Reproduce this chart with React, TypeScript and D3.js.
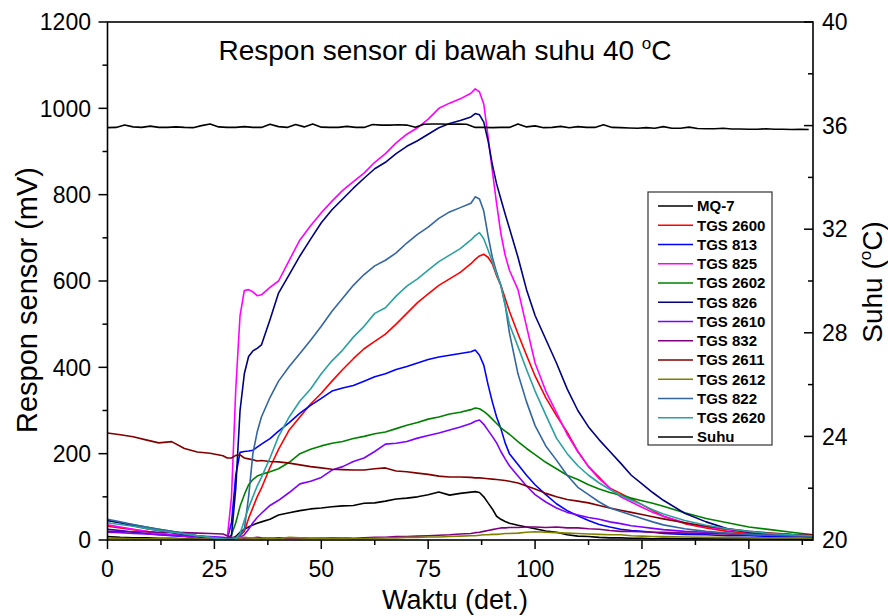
import React from 'react';
import * as d3 from 'd3';

// Shared time axis (seconds)
const TIME = [
  0, 3, 6, 9, 12, 15, 18, 21, 24, 27,
  28, 29, 30, 31, 32, 33, 34, 35, 36,
  38, 40, 42.5, 45, 47.5, 50, 52.5, 55, 57.5, 60, 62.5, 65, 67.5, 70, 72.5, 75, 77.5, 80, 82.5, 85,
  86, 87, 88, 89, 90, 91, 92, 93, 94,
  96, 98, 100,
  102.5, 105, 107.5, 110, 112.5, 115, 117.5, 120, 122.5, 125, 127.5, 130,
  135, 140, 145, 150, 155, 160, 165,
];

const MQ7 = [
  8, 6, 5, 5, 4, 4, 3, 3, 3, 2,
  2, 3, 8, 18, 25, 30, 35, 39, 42,
  48, 58, 63, 68, 72, 74, 77, 79, 80, 85, 86, 90, 95, 97, 100, 105, 111, 104, 108, 111,
  112, 110, 100, 86, 72, 55, 48, 43, 39,
  34, 30, 26,
  21, 18, 12, 9, 8, 6, 5, 5, 4, 4, 3, 4,
  3, 3, 2, 3, 2, 2, 2,
];
const TGS2600 = [
  32, 28, 24, 20, 16, 12, 9, 6, 4, 2,
  1, 2, 5, 10, 20, 50, 75, 100, 120,
  168, 210, 255, 285, 315, 340, 368, 395, 420, 443, 460, 477, 500, 525, 550, 570, 590, 605, 620, 640,
  650, 658, 662, 655, 640, 612, 590, 560, 530,
  478, 428, 380,
  330, 288, 250, 205, 170, 145, 120, 108, 95, 82, 68, 55,
  38, 28, 20, 16, 14, 12, 10,
];
const TGS813 = [
  25, 22, 18, 15, 12, 10, 8, 6, 4, 2,
  2, 40, 150, 203, 205, 206, 208, 215, 222,
  235, 252, 272, 294, 312, 328, 345, 352, 358, 368, 378, 385, 395, 402, 410, 418, 424, 428, 432, 436,
  440, 428, 405, 360, 320, 285, 258, 225, 200,
  175, 150, 128,
  105, 84, 68, 56, 45, 36, 30, 25, 22, 20, 18, 15,
  13, 12, 10, 10, 8, 8, 6,
];
const TGS825 = [
  35, 30, 25, 20, 15, 12, 9, 6, 4, 2,
  3, 100, 350, 520, 578, 580, 575, 566, 568,
  585, 600, 648, 695, 728, 758, 785, 810, 830, 850, 875, 895, 920, 940, 955, 975, 1000, 1012, 1022, 1035,
  1045, 1038, 1010, 935, 855, 780, 710, 660, 625,
  580, 495, 410,
  345, 295, 245, 205, 170, 142, 120, 100, 88, 76, 64, 55,
  40, 30, 24, 18, 14, 12, 10,
];
const TGS2602 = [
  45, 40, 35, 30, 25, 20, 15, 10, 6, 3,
  2, 12, 40, 78, 105, 128, 140, 148, 152,
  158, 165, 180, 200, 210, 218, 224, 228, 235, 240, 246, 250, 258, 266, 272, 280, 285, 292, 296, 302,
  306, 304, 298, 290, 280, 270, 260, 252, 245,
  228, 212, 198,
  180, 165, 150, 140, 128, 118, 110, 104, 97, 91, 85, 78,
  63, 50, 40, 30, 24, 18, 12,
];
const TGS826 = [
  45, 40, 33, 27, 22, 17, 12, 8, 5, 2,
  2, 10, 120, 300, 385, 425, 438, 444, 452,
  510, 572, 615, 658, 697, 735, 765, 790, 815, 838, 860, 875, 895, 912, 925, 940, 955, 965, 972, 980,
  988, 985, 968, 925, 870, 825, 790, 755, 722,
  655, 580, 520,
  465, 410, 350, 300, 262, 232, 205, 178, 150, 130, 110, 92,
  62, 42, 26, 18, 12, 10, 8,
];
const TGS2610 = [
  18, 17, 15, 14, 12, 11, 10, 9, 8, 6,
  5, 4, 4, 6, 12, 25, 40, 52, 62,
  80, 92, 110, 130, 136, 145, 162, 170, 182, 190, 205, 222, 224, 228, 236, 242, 248, 255, 262, 270,
  275, 278, 268, 254, 240, 225, 205, 188, 172,
  148, 125, 105,
  88, 74, 64, 58, 52, 48, 42, 38, 33, 30, 27, 24,
  20, 18, 15, 13, 12, 10, 9,
];
const TGS832 = [
  20, 20, 19, 19, 18, 18, 17, 16, 15, 14,
  10, 6, 5, 5, 4, 5, 5, 6, 5,
  4, 5, 4, 5, 4, 4, 5, 5, 4, 5, 6, 6, 8, 8, 9, 10, 11, 12, 14, 15,
  17, 18, 20, 22, 24, 26, 28, 28, 29,
  29, 30, 30,
  29, 30, 28, 28, 26, 25, 22, 20, 20, 19, 18, 18,
  16, 15, 14, 13, 12, 11, 10,
];
const TGS2611 = [
  248, 244, 239, 232, 225, 228, 212, 204, 201, 195,
  190, 190, 196, 197, 190, 188, 186, 183, 184,
  182, 181, 178, 174, 170, 167, 164, 163, 162, 162, 165, 167, 160, 158, 155, 152, 148, 146, 146, 145,
  144, 144, 143, 142, 141, 140, 139, 138, 136,
  132, 125, 118,
  108, 100, 94, 90, 86, 80, 74, 69, 64, 59, 54, 49,
  40, 32, 26, 20, 16, 13, 12,
];
const TGS2612 = [
  4, 4, 3, 3, 3, 3, 2, 2, 2, 2,
  2, 3, 5, 5, 6, 5, 5, 4, 3,
  5, 3, 6, 5, 4, 5, 4, 5, 3, 3, 4, 5, 5, 6, 6, 7, 7, 8, 9, 10,
  10, 11, 12, 12, 13, 13, 14, 15, 15,
  16, 18, 19,
  18, 17, 16, 15, 14, 13, 12, 12, 10, 9, 8, 8,
  7, 6, 6, 5, 5, 5, 4,
];
const TGS822 = [
  48, 42, 36, 30, 25, 20, 15, 10, 6, 3,
  2, 3, 6, 12, 25, 100, 200, 250, 285,
  330, 368, 402, 432, 463, 495, 530, 560, 590, 615, 635, 648, 665, 688, 708, 725, 745, 760, 770, 780,
  795, 790, 762, 705, 655, 620, 590, 545, 480,
  385, 320, 265,
  218, 185, 150, 122, 105, 88, 74, 66, 58, 50, 42, 35,
  26, 20, 16, 13, 11, 10, 9,
];
const TGS2620 = [
  40, 36, 32, 27, 22, 18, 14, 10, 6, 3,
  1, 1, 3, 15, 45, 75, 100, 125, 145,
  190, 240, 285, 322, 350, 385, 415, 440, 470, 495, 525, 538, 565, 588, 605, 625, 645, 660, 675, 695,
  705, 712, 698, 672, 645, 615, 590, 545, 500,
  448, 395, 345,
  290, 236, 200, 172, 150, 132, 117, 103, 92, 82, 70, 60,
  45, 34, 26, 20, 15, 12, 10,
];

// Temperature (right axis)
const SUHU_TIME = [
  0, 2, 4, 6, 8, 10, 12, 14, 16, 18, 20, 22, 24, 26, 28, 30, 32, 34, 36, 38,
  40, 42, 44, 46, 48, 50, 52, 54, 56, 58, 60, 62, 64, 66, 68, 70, 72, 74, 76, 78,
  80, 82, 84, 86, 88, 90, 92, 94, 96, 98, 100, 102, 104, 106, 108, 110, 112, 114, 116, 118,
  120, 122, 124, 126, 128, 130, 132, 134, 136, 138, 140, 142, 144, 146, 148, 150, 152, 154, 156, 158,
  160, 162, 164,
];
const SUHU = [
  35.92, 35.93, 36.02, 35.95, 35.93, 35.98, 35.93, 35.93, 35.95, 35.93, 35.92, 36.0, 36.06, 35.95, 35.93, 35.93, 35.96, 35.93, 35.93, 36.05,
  35.96, 35.93, 36.04, 35.95, 36.06, 35.94, 35.93, 35.93, 35.97, 35.93, 35.93, 36.04, 36.02, 36.02, 36.03, 36.02, 35.94, 36.05, 36.06, 36.06,
  36.05, 36.06, 36.05, 35.93, 35.93, 35.92, 35.93, 35.93, 36.06, 35.95, 35.99, 35.92, 35.93, 35.97, 35.92, 35.96, 35.93, 35.93, 36.03, 35.93,
  35.92, 35.91, 35.9, 35.92, 35.9, 35.96, 35.9, 35.9, 35.94, 35.89, 35.88, 35.88, 35.9, 35.87, 35.87, 35.86, 35.86, 35.88, 35.86, 35.86,
  35.85, 35.86, 35.85,
];

const SENSOR_NAMES = ['MQ-7', 'TGS 2600', 'TGS 813', 'TGS 825', 'TGS 2602', 'TGS 826', 'TGS 2610', 'TGS 832', 'TGS 2611', 'TGS 2612', 'TGS 822', 'TGS 2620'];
const SENSOR_VALUES = [MQ7, TGS2600, TGS813, TGS825, TGS2602, TGS826, TGS2610, TGS832, TGS2611, TGS2612, TGS822, TGS2620];
const SENSOR_COLORS = ['#000000', '#ff0000', '#0000ff', '#ff00ff', '#008000', '#000080', '#8000ff', '#800080', '#800000', '#808000', '#3366a0', '#2aa0a0'];

const X_TICKS = [0, 25, 50, 75, 100, 125, 150];
const X_MINOR = [12.5, 37.5, 62.5, 87.5, 112.5, 137.5, 162.5];
const Y_TICKS = [0, 200, 400, 600, 800, 1000, 1200];
const Y_MINOR = [100, 300, 500, 700, 900, 1100];
const T_TICKS = [20, 24, 28, 32, 36, 40];
const T_MINOR = [22, 26, 30, 34, 38];

const FONT = '"Liberation Sans", Arial, Helvetica, sans-serif';

export default function App() {
  const W = 888;
  const H = 616;
  const L = 107.5, R = 813, T = 22, B = 540;
  const x = d3.scaleLinear().domain([0, 165]).range([L, R]);
  const y = d3.scaleLinear().domain([0, 1200]).range([B, T]);
  const yT = d3.scaleLinear().domain([20, 40]).range([B, T]);

  const sensorLine = d3.line<number>().x((_, i) => x(TIME[i])).y((d) => y(d));
  const suhuLine = d3.line<number>().x((_, i) => x(SUHU_TIME[i])).y((d) => yT(d));

  const legendNames = [...SENSOR_NAMES, 'Suhu'];
  const legendColors = [...SENSOR_COLORS, '#000000'];
  const lgX = 648, lgY = 192, lgW = 124, lgH = 253;

  return (
    <svg width={W} height={H} style={{ position: 'absolute', left: 0, top: 0, background: '#fff' }} fontFamily={FONT}>
      <rect x={0} y={0} width={W} height={H} fill="#fff" />
      <defs>
        <clipPath id="plotclip">
          <rect x={L} y={T} width={R - L} height={B - T} />
        </clipPath>
      </defs>

      {/* series */}
      <g clipPath="url(#plotclip)" fill="none" strokeLinejoin="round">
        {SENSOR_VALUES.map((vals, i) => (
          <path key={SENSOR_NAMES[i]} d={sensorLine(vals) || ''} stroke={SENSOR_COLORS[i]} strokeWidth={1.6} />
        ))}
        <path d={suhuLine(SUHU) || ''} stroke="#000" strokeWidth={1.6} />
      </g>

      {/* frame */}
      <rect x={L} y={T} width={R - L} height={B - T} fill="none" stroke="#000" strokeWidth={1.6} />

      {/* bottom axis ticks */}
      {X_TICKS.map((v) => (
        <g key={'xt' + v}>
          <line x1={x(v)} x2={x(v)} y1={B} y2={B + 9} stroke="#000" strokeWidth={1.5} />
          <text x={x(v)} y={577} fontSize={23} textAnchor="middle" fill="#000">{v}</text>
        </g>
      ))}
      {X_MINOR.map((v) => (
        <line key={'xm' + v} x1={x(v)} x2={x(v)} y1={B} y2={B + 5} stroke="#000" strokeWidth={1.5} />
      ))}

      {/* left axis ticks */}
      {Y_TICKS.map((v) => (
        <g key={'yt' + v}>
          <line x1={L - 9} x2={L} y1={y(v)} y2={y(v)} stroke="#000" strokeWidth={1.5} />
          <text x={91} y={y(v)} dy="0.36em" fontSize={23} textAnchor="end" fill="#000">{v}</text>
        </g>
      ))}
      {Y_MINOR.map((v) => (
        <line key={'ym' + v} x1={L - 5} x2={L} y1={y(v)} y2={y(v)} stroke="#000" strokeWidth={1.5} />
      ))}

      {/* right axis ticks (inward) */}
      {T_TICKS.map((v) => (
        <g key={'tt' + v}>
          <line x1={R - 9} x2={R} y1={yT(v)} y2={yT(v)} stroke="#000" strokeWidth={1.5} />
          <text x={822} y={yT(v)} dy="0.36em" fontSize={23} textAnchor="start" fill="#000">{v}</text>
        </g>
      ))}
      {T_MINOR.map((v) => (
        <line key={'tm' + v} x1={R - 5} x2={R} y1={yT(v)} y2={yT(v)} stroke="#000" strokeWidth={1.5} />
      ))}

      {/* title */}
      <text x={445} y={60} fontSize={28} textAnchor="middle" fill="#000">
        Respon sensor di bawah suhu 40 <tspan fontSize={17} dy={-11}>o</tspan><tspan dy={11}>C</tspan>
      </text>

      {/* axis titles */}
      <text x={455} y={609} fontSize={27} textAnchor="middle" fill="#000">Waktu (det.)</text>
      <text transform="translate(37,300) rotate(-90)" fontSize={29} textAnchor="middle" fill="#000">Respon sensor (mV)</text>
      <text transform="translate(882,282) rotate(-90)" fontSize={28} textAnchor="middle" fill="#000">
        Suhu (<tspan fontSize={17} dy={-11}>o</tspan><tspan dy={11}>C)</tspan>
      </text>

      {/* legend */}
      <rect x={lgX} y={lgY} width={lgW} height={lgH} fill="#fff" stroke="#333" strokeWidth={1.2} />
      {legendNames.map((n, i) => {
        const ly = 206 + i * 19.25;
        return (
          <g key={'lg' + n}>
            <line x1={658} x2={693} y1={ly} y2={ly} stroke={legendColors[i]} strokeWidth={1.6} />
            <text x={697} y={ly} dy="0.36em" fontSize={15} fontWeight="bold" fill="#000">{n}</text>
          </g>
        );
      })}
    </svg>
  );
}
